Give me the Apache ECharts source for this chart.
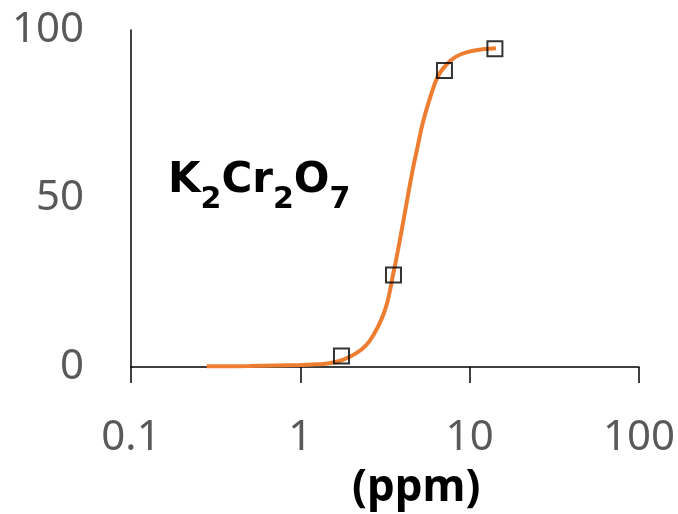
<!DOCTYPE html>
<html>
<head>
<meta charset="utf-8">
<script src="https://cdn.jsdelivr.net/npm/echarts@6/dist/echarts.min.js"></script>
<style>
  html, body { margin: 0; padding: 0; background: #fff; }
  #graphics { width: 678px; height: 514px; }
</style>
</head>
<body>
<div id="graphics"></div>
<script>
// tick labels
const xTicks = ['0.1', '1', '10', '100'];
const yTicks = ['0', '50', '100'];

// measured points (squares)
const measuredX = [1.75, 3.55, 7.1, 14.1];
const measuredY = [3.3, 27.3, 88, 94.4];

// fitted curve
const fitX = [0.28, 0.5, 1, 1.25, 1.49, 1.78, 2.14, 2.45, 2.74, 3.0, 3.21, 3.36, 3.51, 3.68, 3.85, 4.22, 4.61, 4.93, 5.28, 5.78, 6.47, 7.25, 8.3, 9.95, 11.9, 14.3];
const fitY = [0.2, 0.3, 0.6, 0.8, 1.1, 2.1, 4.1, 6.5, 10.0, 13.9, 17.9, 21.9, 26.8, 31.8, 37, 48, 58.5, 65.4, 72.3, 79.2, 86.1, 89.6, 92.1, 93.6, 94.3, 94.6];

var myChart = echarts.init(document.getElementById('graphics'));

var labelFont = '"Noto Sans", sans-serif';
var formulaFont = '"DejaVu Sans", sans-serif';

var option = {
    animation: false,
    grid: { left: 131, right: 38, top: 30, bottom: 147 },
    xAxis: {
        type: 'log',
        logBase: 10,
        min: 0.1,
        max: 100,
        interval: 1,
        axisLine: { onZero: false, lineStyle: { color: '#000', width: 1.5 } },
        axisTick: { show: true, length: 16, inside: false, lineStyle: { color: '#000', width: 1.5 } },
        minorTick: { show: false },
        splitLine: { show: false },
        axisLabel: {
            margin: 50,
            color: '#595959',
            fontSize: 42,
            fontFamily: labelFont,
            formatter: function (v, i) { return xTicks[i]; }
        }
    },
    yAxis: {
        type: 'value',
        min: 0,
        max: 100,
        interval: 50,
        axisLine: { show: true, lineStyle: { color: '#000', width: 1.5 } },
        axisTick: { show: false },
        splitLine: { show: false },
        axisLabel: {
            margin: 47,
            color: '#595959',
            fontSize: 42,
            fontFamily: labelFont,
            formatter: function (v, i) { return yTicks[i]; }
        }
    },
    graphic: [
        {
            type: 'text',
            left: 352,
            top: 466,
            style: {
                text: '(ppm)',
                fill: '#000',
                font: 'bold 44px "Noto Sans", sans-serif'
            }
        },
        {
            type: 'text',
            left: 168,
            top: 160,
            style: {
                text: '{m|K}{s|2}{m|Cr}{s|2}{m|O}{s|7}',
                rich: {
                    m: { fontSize: 42, fontWeight: 'bold', fontFamily: formulaFont, fill: '#000', color: '#000', verticalAlign: 'bottom', lineHeight: 50, padding: [0, 0, 13, 0] },
                    s: { fontSize: 30, fontWeight: 'bold', fontFamily: formulaFont, fill: '#000', color: '#000', verticalAlign: 'bottom', lineHeight: 36 }
                }
            }
        }
    ],
    series: [
        {
            name: 'fit',
            type: 'line',
            data: fitX.map(function (x, i) { return [x, fitY[i]]; }),
            smooth: 0.4,
            showSymbol: false,
            lineStyle: { color: '#ED7D31', width: 4 },
            z: 2
        },
        {
            name: 'measured',
            type: 'scatter',
            data: measuredX.map(function (x, i) { return [x, measuredY[i]]; }),
            symbol: 'rect',
            symbolSize: 15,
            itemStyle: { color: 'rgba(0,0,0,0)', borderColor: '#000', borderWidth: 2 },
            z: 3
        }
    ]
};

myChart.setOption(option);
</script>
</body>
</html>
